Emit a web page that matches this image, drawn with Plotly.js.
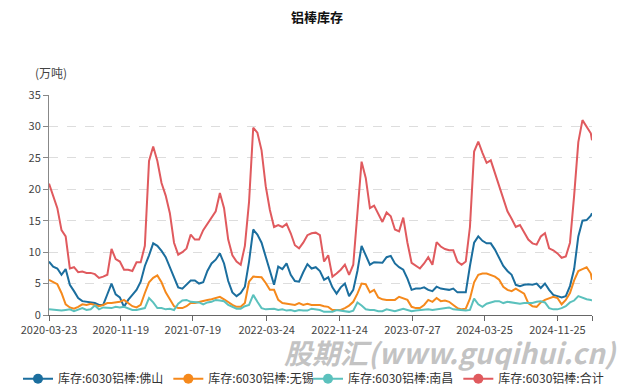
<!DOCTYPE html>
<html>
<head>
<meta charset="utf-8">
<script src="https://cdn.plot.ly/plotly-3.0.1.min.js"></script>
<style>
html,body{margin:0;padding:0;background:#fff;}
#chart{width:634px;height:388px;}
</style>
</head>
<body>
<div id="chart"></div>
<script>
var dates = [
"2020-03-23","2020-04-06","2020-04-20","2020-05-04","2020-05-18","2020-06-01","2020-06-15","2020-06-29","2020-07-13","2020-07-27",
"2020-08-10","2020-08-24","2020-09-07","2020-09-21","2020-10-05","2020-10-19","2020-11-02","2020-11-16","2020-11-30","2020-12-14",
"2020-12-28","2021-01-11","2021-01-25","2021-02-08","2021-02-22","2021-03-08","2021-03-22","2021-04-05","2021-04-19","2021-05-03",
"2021-05-17","2021-05-31","2021-06-14","2021-06-28","2021-07-12","2021-07-26","2021-08-09","2021-08-23","2021-09-06","2021-09-20",
"2021-10-04","2021-10-18","2021-11-01","2021-11-15","2021-11-29","2021-12-13","2021-12-27","2022-01-10","2022-01-24","2022-02-07",
"2022-02-21","2022-03-07","2022-03-21","2022-04-04","2022-04-18","2022-05-02","2022-05-16","2022-05-30","2022-06-13","2022-06-27",
"2022-07-11","2022-07-25","2022-08-08","2022-08-22","2022-09-05","2022-09-19","2022-10-03","2022-10-17","2022-10-31","2022-11-14",
"2022-11-28","2022-12-12","2022-12-26","2023-01-09","2023-01-23","2023-02-06","2023-02-20","2023-03-06","2023-03-20","2023-04-03",
"2023-04-17","2023-05-01","2023-05-15","2023-05-29","2023-06-12","2023-06-26","2023-07-10","2023-07-24","2023-08-07","2023-08-21",
"2023-09-04","2023-09-18","2023-10-02","2023-10-16","2023-10-30","2023-11-13","2023-11-27","2023-12-11","2023-12-25","2024-01-08",
"2024-01-22","2024-02-05","2024-02-19","2024-03-04","2024-03-18","2024-04-01","2024-04-15","2024-04-29","2024-05-13","2024-05-27",
"2024-06-10","2024-06-24","2024-07-08","2024-07-22","2024-08-05","2024-08-19","2024-09-02","2024-09-16","2024-09-30","2024-10-14",
"2024-10-28","2024-11-11","2024-11-25","2024-12-09","2024-12-23","2025-01-06","2025-01-20","2025-02-03","2025-02-17","2025-03-03",
"2025-03-17","2025-03-21"
];

var foshan = [
8.5,7.7,7.4,6.4,7.3,4.8,3.8,2.7,2.2,2.1,
2.1,1.9,1.6,1.6,3.3,5.0,3.3,2.8,1.3,2.4,
3.2,4.0,5.3,7.8,9.5,11.4,11.0,10.2,9.2,7.6,
5.7,4.4,4.2,4.8,5.5,5.5,5.0,5.2,7.0,8.2,
8.8,9.8,8.2,5.4,3.6,3.0,3.5,4.5,8.5,13.6,
12.8,11.5,9.2,6.8,4.8,7.7,7.3,8.2,6.4,5.4,
5.3,6.8,8.1,7.4,7.6,7.0,5.6,6.0,4.4,3.4,
4.4,5.0,3.0,4.0,7.0,11.0,9.4,8.0,8.4,8.3,
8.3,9.2,9.4,8.2,7.6,7.2,5.8,4.0,4.2,4.2,
4.4,4.0,3.8,4.5,4.2,4.1,4.0,4.2,3.6,3.6,
3.6,7.8,11.5,12.5,11.8,11.4,11.4,10.4,9.2,7.8,
7.0,6.4,4.8,4.6,4.8,4.9,4.8,5.0,4.3,5.0,
4.0,3.2,3.0,2.8,3.0,4.6,7.3,12.5,15.0,15.1,
15.8,16.2
];

var wuxi = [
5.6,5.3,4.9,3.5,1.7,1.2,1.0,1.3,1.7,1.6,
1.8,1.6,1.4,1.6,1.9,1.9,2.0,2.1,2.4,1.9,
1.4,1.2,1.6,3.5,5.2,5.9,6.3,5.2,3.6,2.5,
1.4,1.1,1.1,1.4,1.9,1.9,2.1,2.3,2.4,2.5,
2.7,2.9,2.5,2.0,1.6,1.3,1.3,1.9,5.3,6.1,
6.1,6.0,5.1,4.0,4.0,2.4,1.9,1.8,1.6,1.6,
1.9,1.6,1.8,1.6,1.6,1.6,1.4,1.3,0.8,0.8,
0.8,1.1,1.5,2.1,3.4,5.0,4.9,3.6,4.0,2.8,
2.5,2.4,2.4,2.4,2.9,2.7,2.4,1.3,1.1,1.1,
1.6,2.4,2.1,2.7,2.2,2.3,2.1,1.6,1.1,0.9,
1.0,2.6,5.2,6.4,6.6,6.6,6.4,6.1,5.6,4.5,
4.0,3.8,4.2,3.8,3.4,1.9,1.4,1.3,2.0,2.4,
2.7,2.9,2.7,1.7,2.4,3.5,5.5,7.0,7.3,7.6,
6.6,5.6
];

var nanchang = [
0.9,0.8,0.8,0.7,0.8,0.9,0.6,0.8,1.1,0.8,
0.9,1.5,0.9,1.2,1.2,1.1,1.3,1.2,1.3,1.1,
0.8,0.8,0.9,1.1,2.7,2.0,1.1,1.1,0.9,1.0,
0.8,1.8,2.3,2.4,2.1,2.0,2.0,1.7,2.0,2.1,
2.4,2.3,2.2,1.6,1.3,1.0,1.0,1.4,1.6,3.2,
2.1,1.1,0.9,1.0,1.0,0.8,0.9,0.7,0.8,0.6,
0.8,0.7,0.7,1.0,0.9,0.8,0.5,0.5,0.5,0.8,
0.7,0.7,0.5,0.7,2.0,1.5,0.9,0.8,0.8,0.6,
0.6,0.9,0.8,0.6,0.8,1.0,0.8,0.6,0.7,0.8,
0.8,0.9,0.8,0.9,1.1,1.2,1.2,0.9,0.8,0.7,
0.7,0.8,2.6,1.7,1.3,1.8,2.0,2.2,2.2,1.9,
2.1,2.0,2.0,1.8,1.9,1.9,1.9,2.1,2.2,2.0,
1.1,0.9,0.9,1.1,1.4,2.0,2.3,3.0,2.7,2.5,
2.4,2.3
];

var total = [
20.9,19.1,17.0,13.5,12.5,7.4,7.6,6.8,6.9,6.7,
6.7,6.5,5.9,6.1,6.4,10.5,8.9,8.5,7.2,7.2,
7.0,8.4,8.4,11.0,24.5,26.8,24.5,21.0,19.0,16.2,
11.5,9.6,10.0,10.6,12.8,12.0,12.0,13.5,14.5,15.7,
16.5,19.4,17.0,12.0,9.5,8.5,8.0,11.0,18.0,29.8,
29.0,26.2,20.5,16.7,14.0,14.3,14.0,14.5,13.0,11.1,
10.6,11.5,12.7,13.0,13.1,12.7,8.5,9.5,6.1,6.6,
7.2,8.0,6.4,8.0,16.0,24.4,21.8,17.0,17.4,16.0,
14.8,16.3,15.7,13.6,13.3,15.5,11.5,8.3,7.8,7.4,
8.2,9.2,8.0,11.6,10.9,10.5,10.3,10.3,8.5,8.0,
8.5,14.0,26.0,27.6,25.8,24.2,24.6,22.6,20.8,18.5,
16.5,15.3,14.0,14.3,13.2,12.0,11.4,11.2,12.5,13.0,
10.6,10.3,9.8,9.1,9.3,11.5,19.0,27.5,31.0,30.0,
28.9,27.8
];

var seriesNames = ["库存:6030铝棒:佛山","库存:6030铝棒:无锡","库存:6030铝棒:南昌","库存:6030铝棒:合计"];
var seriesColors = ["#1b6e9e","#f5891c","#5bc1bd","#e05a5e"];
var tickDates = ["2020-03-23","2020-11-19","2021-07-19","2022-03-24","2022-11-24","2023-07-27","2024-03-25","2024-11-25","2025-03-21"];
var tickLabels = ["2020-03-23","2020-11-19","2021-07-19","2022-03-24","2022-11-24","2023-07-27","2024-03-25","2024-11-25",""];
var yTicks = [0,5,10,15,20,25,30,35];

var seriesData = [foshan, wuxi, nanchang, total];
var legendIds = ['legend', 'legend', 'legend2', 'legend2'];
var font = "'Noto Sans CJK SC', 'Noto Sans', sans-serif";

var traces = [];
for (var i = 0; i < 4; i++) {
  traces.push({
    x: dates, y: seriesData[i], type: 'scatter', mode: 'lines',
    line: {color: seriesColors[i], width: 2},
    showlegend: false, hoverinfo: 'x+y', name: seriesNames[i]
  });
}
for (var j = 0; j < 4; j++) {
  traces.push({
    x: [null], y: [null], type: 'scatter', mode: 'lines+markers',
    line: {color: seriesColors[j], width: 2},
    marker: {color: seriesColors[j], size: 10},
    name: seriesNames[j], showlegend: true, legend: legendIds[j]
  });
}

var legendBase = {
  orientation: 'h', xref: 'container', yref: 'container',
  xanchor: 'left', y: 0.024, yanchor: 'middle',
  font: {family: font, size: 12, color: '#333'},
  itemwidth: 30, tracegroupgap: 0, bgcolor: 'rgba(0,0,0,0)'
};
var legend1 = Object.assign({}, legendBase, {x: 18 / 634});
var legend2 = Object.assign({}, legendBase, {x: 308 / 634});

var layout = {
  width: 634, height: 388,
  margin: {l: 49, r: 42, t: 95, b: 73},
  paper_bgcolor: '#fff', plot_bgcolor: '#fff',
  font: {family: font, size: 11, color: '#555'},
  title: {text: '<b>铝棒库存</b>', x: 0.5, xanchor: 'center', y: 0.955, yanchor: 'middle',
          font: {family: font, size: 13, color: '#111'}},
  xaxis: {
    type: 'date', range: ['2020-03-23', '2025-03-21'],
    tickmode: 'array', tickvals: tickDates, ticktext: tickLabels,
    showgrid: false, zeroline: false,
    showline: true, linecolor: '#666', linewidth: 1,
    ticks: 'outside', ticklen: 5, tickcolor: '#666',
    tickfont: {family: font, size: 11, color: '#444'}
  },
  yaxis: {
    range: [0, 35], tickmode: 'array', tickvals: yTicks,
    showgrid: true, gridcolor: '#dddddd', griddash: 'dash', gridwidth: 1,
    zeroline: false, showline: true, linecolor: '#888', linewidth: 1,
    ticks: 'outside', ticklen: 5, tickcolor: '#888',
    tickfont: {family: font, size: 11, color: '#444'}
  },
  showlegend: true,
  legend: legend1,
  legend2: legend2,
  annotations: [
    {text: '(万吨)', xref: 'paper', yref: 'paper', x: -0.03, y: 1.1, xanchor: 'left', yanchor: 'middle',
     showarrow: false, font: {family: font, size: 12, color: '#444'}},
    {text: '<b><i>股期汇(www.guqihui.cn)</i></b>', xref: 'paper', yref: 'paper', x: 1.05, y: -0.17,
     xanchor: 'right', yanchor: 'middle', showarrow: false,
     font: {family: font, size: 28, color: 'rgba(175,175,175,0.75)'}}
  ]
};

Plotly.newPlot('chart', traces, layout, {displayModeBar: false, staticPlot: true});
</script>
</body>
</html>
